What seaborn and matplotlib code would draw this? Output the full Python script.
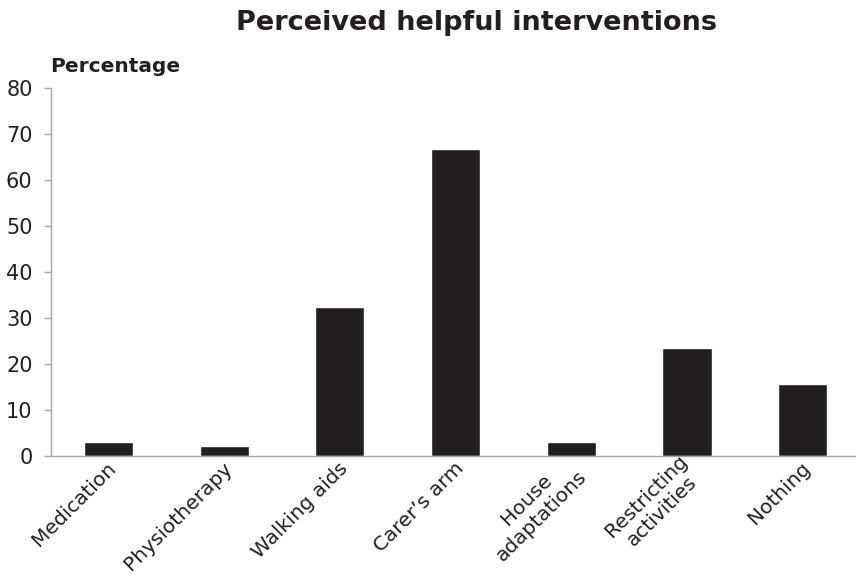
import matplotlib
matplotlib.use("Agg")
import matplotlib.pyplot as plt
import matplotlib.transforms as mtransforms
import seaborn as sns
import pandas as pd

# Share of respondents naming each intervention as helpful (%)
categories = ["Medication", "Physiotherapy", "Walking aids", "Carer\u2019s arm",
              "House\nadaptations", "Restricting\nactivities", "Nothing"]
percentages = [2.9, 2.1, 32.4, 66.7, 2.9, 23.5, 15.7]
y_ticks = [0, 10, 20, 30, 40, 50, 60, 70, 80]

df = pd.DataFrame({"category": categories, "percentage": percentages})

sns.set_theme(style="white")
plt.rcParams["font.family"] = ["DejaVu Sans"]

ink = "#231f20"
axis_grey = "#a6a6a6"

fig = plt.figure(figsize=(8.56, 5.78), dpi=100)
ax = fig.add_axes([50.6 / 856, 0.2116, 810 / 856, 0.6356])

sns.barplot(data=df, x="category", y="percentage", color=ink, width=0.424,
            saturation=1, ax=ax)

ax.set_xlim(-0.5, 6.5)
ax.set_ylim(0, 80)
ax.set_yticks(y_ticks)
ax.set_xlabel("")
ax.set_ylabel("")

for side in ("top", "right"):
    ax.spines[side].set_visible(False)
for side in ("left", "bottom"):
    ax.spines[side].set_color(axis_grey)
    ax.spines[side].set_linewidth(1.0)

ax.tick_params(axis="y", which="major", length=5, width=1, color=axis_grey,
               labelsize=15, labelcolor=ink, pad=8, left=True)
ax.tick_params(axis="x", length=0, labelsize=14.5, labelcolor=ink, pad=7)

# rotated category labels, shifted a little to the right of each tick
shift = mtransforms.ScaledTranslation(5 / 100, 0, fig.dpi_scale_trans)
for lab in ax.get_xticklabels():
    lab.set_rotation(45)
    lab.set_ha("right")
    lab.set_va("center")
    lab.set_rotation_mode("anchor")
    lab.set_multialignment("center")
    lab.set_transform(lab.get_transform() + shift)

fig.text(476 / 856, 1 - 23 / 578, "Perceived helpful interventions",
         ha="center", va="center", fontsize=19.5, fontweight="bold", color=ink)
fig.text(50 / 856, 1 - 66 / 578, "Percentage", ha="left", va="center",
         fontsize=14.5, fontweight="bold", color=ink)

fig.savefig("out.png", dpi=100)
